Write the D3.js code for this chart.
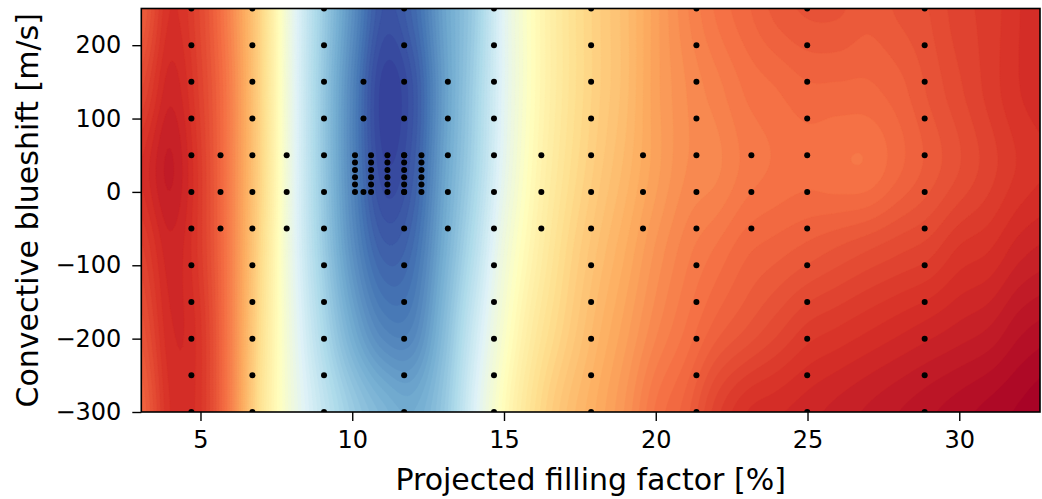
<!DOCTYPE html>
<html><head><meta charset="utf-8">
<script src="https://cdn.jsdelivr.net/npm/d3@7"></script>
<style>
body{margin:0;background:#fff}
text{font-family:"DejaVu Sans",sans-serif;fill:#000}
</style>
</head><body>
<svg id="chart" width="1042" height="499"></svg>
<script>
// ---- colour-map field (RdYlBu position, 0 = dark red, 1 = dark blue) ----
const fieldX = [3,4,5,6,7,8,9,10,11,12,13,14,15,16,17,18,19,20,21,22,23,24,25,26,27,28,29,30,31,32,33];
const fieldY = [250,140,30,-80,-190,-300];
const fieldRow250  = [0.18,0.10,0.14,0.24,0.38,0.57,0.72,0.85,0.95,0.92,0.82,0.73,0.59,0.49,0.42,0.37,0.33,0.28,0.24,0.21,0.19,0.17,0.16,0.16,0.17,0.16,0.15,0.13,0.12,0.10,0.09];
const fieldRow140  = [0.14,0.08,0.13,0.23,0.38,0.57,0.73,0.87,0.98,0.95,0.83,0.72,0.59,0.49,0.42,0.37,0.33,0.28,0.25,0.23,0.21,0.20,0.19,0.19,0.19,0.18,0.16,0.14,0.12,0.10,0.09];
const fieldRow30   = [0.10,0.06,0.12,0.23,0.38,0.57,0.73,0.87,0.97,0.94,0.82,0.71,0.58,0.48,0.41,0.36,0.32,0.28,0.25,0.24,0.22,0.21,0.205,0.21,0.21,0.19,0.17,0.15,0.13,0.11,0.10];
const fieldRowM80  = [0.13,0.08,0.12,0.23,0.39,0.57,0.72,0.85,0.93,0.91,0.80,0.68,0.55,0.46,0.39,0.34,0.30,0.26,0.23,0.21,0.19,0.18,0.17,0.16,0.15,0.14,0.13,0.11,0.10,0.08,0.07];
const fieldRowM190 = [0.16,0.09,0.11,0.23,0.40,0.56,0.69,0.80,0.87,0.87,0.77,0.64,0.52,0.43,0.37,0.32,0.28,0.24,0.21,0.18,0.16,0.14,0.12,0.11,0.10,0.09,0.08,0.07,0.06,0.04,0.03];
const fieldRowM300 = [0.19,0.10,0.11,0.23,0.41,0.55,0.65,0.73,0.78,0.80,0.74,0.61,0.49,0.40,0.34,0.30,0.26,0.21,0.18,0.13,0.10,0.09,0.08,0.07,0.06,0.05,0.04,0.03,0.02,0.01,0.00];

// ---- model grid points (black dots) ----
const baseX  = [4.70, 6.71, 9.07, 11.71, 14.67, 17.87, 21.34, 24.99, 28.86];
const baseY  = [250, 200, 150, 100, 50, 0, -50, -100, -150, -200, -250, -300];
const midX   = [5.66, 7.84, 13.15, 16.23, 19.58, 23.15];
const midY   = [50, 0, -50];
const upperX = [10.37, 13.15];
const upperY = [150, 100];
const fineX  = [10.09, 10.62, 11.16, 11.71, 12.28];
const fineY  = [0, 10, 20, 30, 40, 50];
const extraX = [10.37];
const extraY = [0];

// ---- axes ----
const xTicks = [5, 10, 15, 20, 25, 30];
const yTicks = [-300, -200, -100, 0, 100, 200];
const xDomain = [3.05, 32.66];
const yDomain = [-300, 250];

const m = {left: 141.3, right: 1040, top: 8.5, bottom: 412};
const svg = d3.select("#chart");
const x = d3.scaleLinear().domain(xDomain).range([m.left, m.right]);
const y = d3.scaleLinear().domain(yDomain).range([m.bottom, m.top]);

const color = d3.scaleLinear()
  .domain(d3.range(11).map(i => i / 10))
  .range(d3.schemeRdYlBu[11])
  .interpolate(d3.interpolateRgb)
  .clamp(true);

// Catmull-Rom evaluation on a uniform node list
function cr(vals, u) {
  const n = vals.length;
  u = Math.max(0, Math.min(n - 1, u));
  let i = Math.floor(u); if (i >= n - 1) i = n - 2;
  const t = u - i;
  const p0 = vals[Math.max(0, i - 1)], p1 = vals[i], p2 = vals[i + 1], p3 = vals[Math.min(n - 1, i + 2)];
  const t2 = t * t, t3 = t2 * t;
  return 0.5 * ((2 * p1) + (-p0 + p2) * t + (2 * p0 - 5 * p1 + 4 * p2 - p3) * t2 + (-p0 + 3 * p1 - 3 * p2 + p3) * t3);
}
const rows = [fieldRow250, fieldRow140, fieldRow30, fieldRowM80, fieldRowM190, fieldRowM300];
const fx = d3.scaleLinear().domain(d3.extent(fieldX)).range([0, fieldX.length - 1]);
const fy = d3.scaleLinear().domain([fieldY[0], fieldY[fieldY.length - 1]]).range([0, fieldY.length - 1]);

const nx = 360, ny = 170;
const values = new Float64Array(nx * ny);
for (let j = 0; j < ny; j++) {
  const yv = yDomain[1] - (j + 0.5) * (yDomain[1] - yDomain[0]) / ny;
  const uy = fy(yv);
  for (let i = 0; i < nx; i++) {
    const xv = xDomain[0] + (i + 0.5) * (xDomain[1] - xDomain[0]) / nx;
    const ux = fx(xv);
    const col = rows.map(r => cr(r, ux));
    values[j * nx + i] = cr(col, uy);
  }
}

const step = 0.0125;
const thresholds = d3.range(-0.05, 1.0, step);
const contours = d3.contours().size([nx, ny]).thresholds(thresholds)(values);
const proj = d3.geoTransform({
  point: function(cx, cy) {
    this.stream.point(
      x(xDomain[0] + cx * (xDomain[1] - xDomain[0]) / nx),
      y(yDomain[1] - cy * (yDomain[1] - yDomain[0]) / ny));
  }
});
const path = d3.geoPath(proj);

svg.append("clipPath").attr("id", "clip").append("rect")
  .attr("x", m.left).attr("y", m.top).attr("width", m.right - m.left).attr("height", m.bottom - m.top);

const g = svg.append("g").attr("clip-path", "url(#clip)");
g.append("g").selectAll("path").data(contours).join("path")
  .attr("d", path)
  .attr("fill", d => color(Math.max(0, d.value + step / 2)))
  .attr("stroke", d => color(Math.max(0, d.value + step / 2)))
  .attr("stroke-width", 0.4);

// dots
const pts = [];
baseY.forEach(yy => baseX.forEach(xx => pts.push([xx, yy])));
midY.forEach(yy => midX.forEach(xx => pts.push([xx, yy])));
upperY.forEach(yy => upperX.forEach(xx => pts.push([xx, yy])));
fineY.forEach(yy => fineX.forEach(xx => pts.push([xx, yy])));
extraX.forEach((xx, k) => pts.push([xx, extraY[k]]));
g.append("g").selectAll("circle").data(pts).join("circle")
  .attr("cx", d => x(d[0])).attr("cy", d => y(d[1])).attr("r", 3).attr("fill", "#000");

// frame
svg.append("rect").attr("x", m.left).attr("y", m.top)
  .attr("width", m.right - m.left).attr("height", m.bottom - m.top)
  .attr("fill", "none").attr("stroke", "#000").attr("stroke-width", 1.6);

// axes
const xAxis = svg.append("g").attr("transform", `translate(0,${m.bottom})`)
  .call(d3.axisBottom(x).tickValues(xTicks).tickSize(9).tickPadding(10).tickFormat(d3.format("d")));
const yAxis = svg.append("g").attr("transform", `translate(${m.left},0)`)
  .call(d3.axisLeft(y).tickValues(yTicks).tickSize(9).tickPadding(11).tickFormat(d3.format("d")));
[xAxis, yAxis].forEach(a => {
  a.select(".domain").remove();
  a.selectAll(".tick line").attr("stroke", "#000").attr("stroke-width", 1.4);
  a.selectAll(".tick text").attr("font-size", 24).attr("font-family", "DejaVu Sans").attr("fill", "#000");
});

svg.append("text").attr("x", (m.left + m.right) / 2).attr("y", 490)
  .attr("text-anchor", "middle").attr("font-size", 30).text("Projected filling factor [%]");
svg.append("text").attr("transform", `translate(38,${(m.top + m.bottom) / 2}) rotate(-90)`)
  .attr("text-anchor", "middle").attr("font-size", 30).text("Convective blueshift [m/s]");
</script>
</body></html>
